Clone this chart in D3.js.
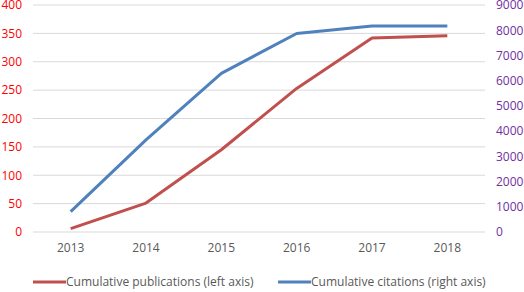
<!DOCTYPE html>
<html><head><meta charset="utf-8">
<script src="https://cdn.jsdelivr.net/npm/d3@7"></script>
<style>body{margin:0;background:#fff}svg{display:block}text{font-family:"Open Sans","Liberation Sans",sans-serif}</style>
</head><body><svg id="c" width="524" height="292"></svg>
<script>
const years = ["2013","2014","2015","2016","2017","2018"];
const publications = [6, 51, 145, 253, 342, 346];
const citations = [805, 3650, 6290, 7870, 8170, 8170];
const leftTicks = [0,50,100,150,200,250,300,350,400];
const rightTicks = [0,1000,2000,3000,4000,5000,6000,7000,8000,9000];
const seriesNames = ["Cumulative publications (left axis)","Cumulative citations (right axis)"];

const svg = d3.select("#c");
const L = 33, R = 485, T = 5, B = 232;
const x = d3.scaleBand().domain(years).range([L, R]);
const yL = d3.scaleLinear().domain([0,400]).range([B, T]);
const yR = d3.scaleLinear().domain([0,9000]).range([B, T]);

svg.append("g").selectAll("line").data(leftTicks).join("line")
  .attr("x1", L).attr("x2", R).attr("y1", d=>yL(d)).attr("y2", d=>yL(d))
  .attr("stroke", "#d9d9d9").attr("stroke-width", 1);

const axL = svg.append("g").attr("transform", `translate(${L},0)`)
  .call(d3.axisLeft(yL).tickValues(leftTicks).tickFormat(d3.format("d")).tickSize(0).tickPadding(11));
axL.select(".domain").remove();
axL.selectAll("text").attr("fill", "#ff0000").style("font-size", "12px");

const axR = svg.append("g").attr("transform", `translate(${R},0)`)
  .call(d3.axisRight(yR).tickValues(rightTicks).tickFormat(d3.format("d")).tickSize(0).tickPadding(11));
axR.select(".domain").remove();
axR.selectAll("text").attr("fill", "#7030a0").style("font-size", "12px");

const axB = svg.append("g").attr("transform", `translate(0,${B})`)
  .call(d3.axisBottom(x).tickSize(0).tickPadding(11));
axB.select(".domain").remove();
axB.selectAll("text").attr("fill", "#595959").style("font-size", "12px");

const cx = d => x(d) + x.bandwidth()/2;
const line1 = d3.line().x((d,i)=>cx(years[i])).y(d=>yL(d));
const line2 = d3.line().x((d,i)=>cx(years[i])).y(d=>yR(d));
svg.append("path").attr("d", line2(citations)).attr("fill","none").attr("stroke","#4f81bd").attr("stroke-width",3).attr("stroke-linejoin","round");
svg.append("path").attr("d", line1(publications)).attr("fill","none").attr("stroke","#c0504d").attr("stroke-width",3).attr("stroke-linejoin","round");

const legend = [{name:seriesNames[0], c:"#c0504d", x:33},{name:seriesNames[1], c:"#4f81bd", x:278}];
const lg = svg.append("g").selectAll("g").data(legend).join("g").attr("transform", d=>`translate(${d.x},282)`);
lg.append("line").attr("x1",0).attr("x2",33).attr("y1",0).attr("y2",0).attr("stroke",d=>d.c).attr("stroke-width",3);
lg.append("text").attr("x",33).attr("y",4).attr("fill","#595959").style("font-size","12px").text(d=>d.name);
</script></body></html>
